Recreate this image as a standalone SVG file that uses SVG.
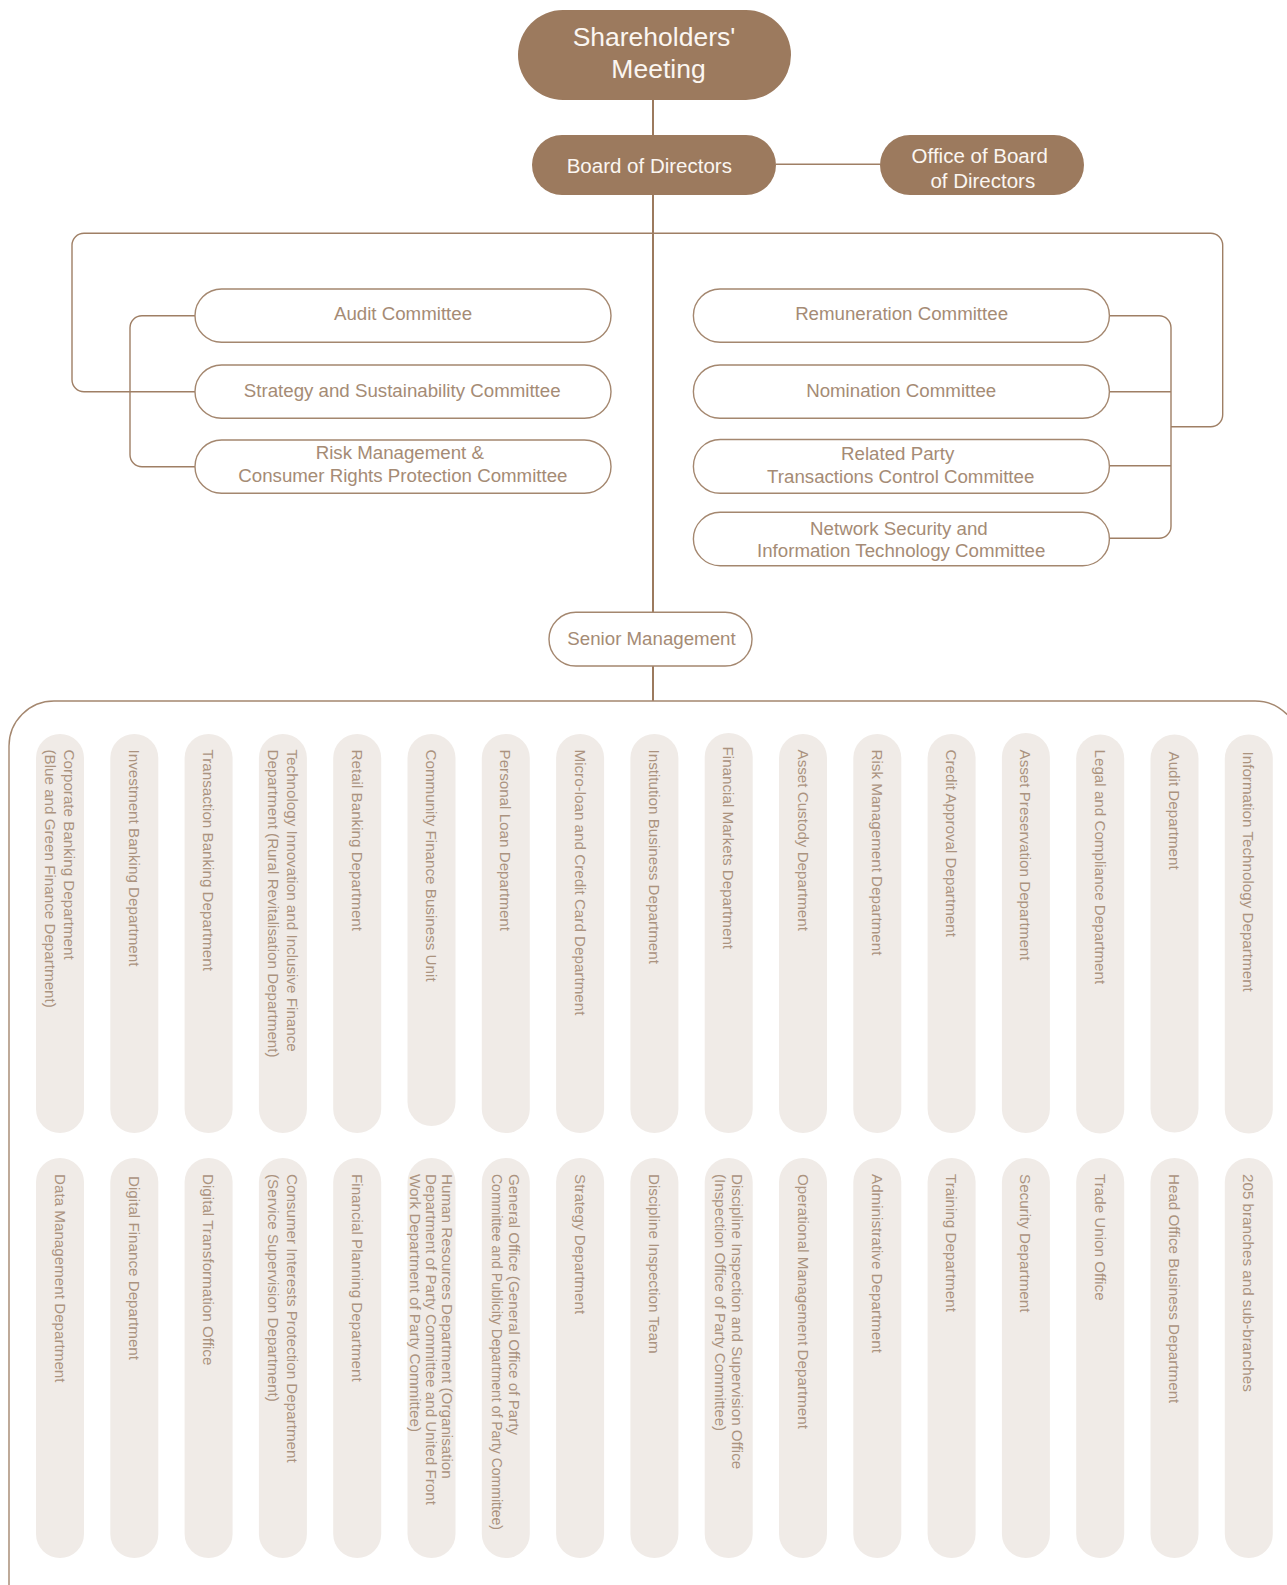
<svg xmlns="http://www.w3.org/2000/svg" width="1287" height="1585" viewBox="0 0 1287 1585">
  <style>
    .solid { fill: #9c7a5e; }
    .solid-text { fill: #fbf6f1; font-family: "Liberation Sans", Arial, sans-serif; text-anchor: middle; }
    .outline { fill: #ffffff; stroke: #a4876f; stroke-width: 1.4; }
    .outline-text { fill: #a58b75; font-family: "Liberation Sans", Arial, sans-serif; font-size: 18.7px; text-anchor: middle; }
    .link { fill: none; stroke: #9f7f65; stroke-width: 1.4; }
    .trunk { fill: none; stroke: #9c7a5e; stroke-width: 2; }
    .frame { fill: none; stroke: #a4876f; stroke-width: 1.4; }
    .dept { fill: #f0ebe7; }
    .dept-text { fill: #ab937f; font-family: "Liberation Sans", Arial, sans-serif; font-size: 15.2px; }
  </style>

  <!-- connectors -->
  <g id="connectors">
    <path class="trunk" d="M653 100 V135 M653 195 V612 M653 666 V701"/>
    <path class="link" d="M776 164.3 H880"/>
    <!-- outer committee bracket -->
    <path class="link" d="M195 391.7 H84 A12 12 0 0 1 72 379.7 V245.3 A12 12 0 0 1 84 233.3 H1210.7 A12 12 0 0 1 1222.7 245.3 V414.7 A12 12 0 0 1 1210.7 426.7 H1171"/>
    <!-- left committee bracket -->
    <path class="link" d="M195 315.7 H142 A12 12 0 0 0 130 327.7 V454.7 A12 12 0 0 0 142 466.7 H195"/>
    <!-- right committee bracket -->
    <path class="link" d="M1109.4 315.7 H1159 A12 12 0 0 1 1171 327.7 V526.3 A12 12 0 0 1 1159 538.3 H1109.4 M1109.4 391.7 H1171 M1109.4 465.7 H1171"/>
    <!-- department frame -->
    <path class="frame" d="M9 1592 V746 A45 45 0 0 1 54 701 H1255 A45 45 0 0 1 1300 746 V1592"/>
  </g>

  <g id="shareholders-meeting">
    <rect class="solid" x="518" y="10" width="273" height="90" rx="45"/>
    <text class="solid-text" font-size="26.5"><tspan x="654" y="46">Shareholders'</tspan><tspan x="658.5" y="78.3">Meeting</tspan></text>
  </g>

  <g id="board-of-directors">
    <rect class="solid" x="532" y="135" width="244" height="60" rx="30"/>
    <text class="solid-text" font-size="20.5" x="649.3" y="173.3">Board of Directors</text>
  </g>

  <g id="office-of-board">
    <rect class="solid" x="880" y="135" width="204" height="60" rx="30"/>
    <text class="solid-text" font-size="20.5"><tspan x="979.8" y="162.7">Office of Board</tspan><tspan x="982.8" y="188.3">of Directors</tspan></text>
  </g>

  <!-- board committees -->
  <g id="audit-committee">
    <rect class="outline" x="195" y="289" width="416" height="53.3" rx="26.6"/>
    <text class="outline-text" x="403" y="320">Audit Committee</text>
  </g>
  <g id="strategy-committee">
    <rect class="outline" x="195" y="365" width="416" height="53.3" rx="26.6"/>
    <text class="outline-text" x="402.2" y="396.7">Strategy and Sustainability Committee</text>
  </g>
  <g id="risk-committee">
    <rect class="outline" x="195" y="440" width="416" height="53.3" rx="26.6"/>
    <text class="outline-text"><tspan x="399.8" y="459.3">Risk Management &amp;</tspan><tspan x="402.9" y="481.7">Consumer Rights Protection Committee</tspan></text>
  </g>
  <g id="remuneration-committee">
    <rect class="outline" x="693.4" y="289" width="416" height="53.3" rx="26.6"/>
    <text class="outline-text" x="901.6" y="320">Remuneration Committee</text>
  </g>
  <g id="nomination-committee">
    <rect class="outline" x="693.4" y="365" width="416" height="53.3" rx="26.6"/>
    <text class="outline-text" x="901.2" y="397.3">Nomination Committee</text>
  </g>
  <g id="related-party-committee">
    <rect class="outline" x="693.4" y="439.5" width="416" height="53.8" rx="26.9"/>
    <text class="outline-text"><tspan x="897.7" y="460">Related Party</tspan><tspan x="900.7" y="482.7">Transactions Control Committee</tspan></text>
  </g>
  <g id="network-security-committee">
    <rect class="outline" x="693.4" y="512.3" width="416" height="53.4" rx="26.7"/>
    <text class="outline-text"><tspan x="898.9" y="535">Network Security and</tspan><tspan x="901.2" y="556.7">Information Technology Committee</tspan></text>
  </g>

  <g id="senior-management">
    <rect class="outline" x="549" y="612.3" width="203" height="53.7" rx="26.8"/>
    <text class="outline-text" x="651.5" y="645">Senior Management</text>
  </g>

  <!-- departments, first row -->
  <g id="dept-corporate-banking">
    <rect class="dept" x="36" y="734" width="48" height="399" rx="24"/>
    <text class="dept-text" transform="translate(60 749.5) rotate(90)"><tspan x="0" y="-4">Corporate Banking Department</tspan><tspan x="0" y="15">(Blue and Green Finance Department)</tspan></text>
  </g>
  <g id="dept-investment-banking">
    <rect class="dept" x="110.3" y="734" width="48" height="399" rx="24"/>
    <text class="dept-text" transform="translate(134.3 749.5) rotate(90)" y="5.5">Investment Banking Department</text>
  </g>
  <g id="dept-transaction-banking">
    <rect class="dept" x="184.6" y="734" width="48" height="399" rx="24"/>
    <text class="dept-text" transform="translate(208.6 749.5) rotate(90)" y="5.5">Transaction Banking Department</text>
  </g>
  <g id="dept-technology-innovation">
    <rect class="dept" x="258.9" y="734" width="48" height="399" rx="24"/>
    <text class="dept-text" transform="translate(282.9 749.5) rotate(90)"><tspan x="0" y="-4">Technology Innovation and Inclusive Finance</tspan><tspan x="0" y="15">Department (Rural Revitalisation Department)</tspan></text>
  </g>
  <g id="dept-retail-banking">
    <rect class="dept" x="333.2" y="734" width="48" height="399" rx="24"/>
    <text class="dept-text" transform="translate(357.2 749.5) rotate(90)" y="5.5">Retail Banking Department</text>
  </g>
  <g id="dept-community-finance">
    <rect class="dept" x="407.5" y="734" width="48" height="392" rx="24"/>
    <text class="dept-text" transform="translate(431.5 749.5) rotate(90)" y="5.5">Community Finance Business Unit</text>
  </g>
  <g id="dept-personal-loan">
    <rect class="dept" x="481.8" y="734" width="48" height="399" rx="24"/>
    <text class="dept-text" transform="translate(505.8 749.5) rotate(90)" y="5.5">Personal Loan Department</text>
  </g>
  <g id="dept-micro-loan">
    <rect class="dept" x="556.1" y="734" width="48" height="399" rx="24"/>
    <text class="dept-text" transform="translate(580.1 749.5) rotate(90)" y="5.5">Micro-loan and Credit Card Department</text>
  </g>
  <g id="dept-institution-business">
    <rect class="dept" x="630.4" y="734" width="48" height="399" rx="24"/>
    <text class="dept-text" transform="translate(654.4 749.5) rotate(90)" y="5.5">Institution Business Department</text>
  </g>
  <g id="dept-financial-markets">
    <rect class="dept" x="704.7" y="733" width="48" height="400" rx="24"/>
    <text class="dept-text" transform="translate(728.7 746.5) rotate(90)" y="5.5">Financial Markets Department</text>
  </g>
  <g id="dept-asset-custody">
    <rect class="dept" x="779" y="734" width="48" height="399" rx="24"/>
    <text class="dept-text" transform="translate(803 749.5) rotate(90)" y="5.5">Asset Custody Department</text>
  </g>
  <g id="dept-risk-management">
    <rect class="dept" x="853.3" y="734" width="48" height="399" rx="24"/>
    <text class="dept-text" transform="translate(877.3 749.5) rotate(90)" y="5.5">Risk Management Department</text>
  </g>
  <g id="dept-credit-approval">
    <rect class="dept" x="927.6" y="734" width="48" height="399" rx="24"/>
    <text class="dept-text" transform="translate(951.6 749.5) rotate(90)" y="5.5">Credit Approval Department</text>
  </g>
  <g id="dept-asset-preservation">
    <rect class="dept" x="1001.9" y="733" width="48" height="400" rx="24"/>
    <text class="dept-text" transform="translate(1025.9 749.5) rotate(90)" y="5.5">Asset Preservation Department</text>
  </g>
  <g id="dept-legal-compliance">
    <rect class="dept" x="1076.2" y="734.5" width="48" height="399" rx="24"/>
    <text class="dept-text" transform="translate(1100.2 749.5) rotate(90)" y="5.5">Legal and Compliance Department</text>
  </g>
  <g id="dept-audit">
    <rect class="dept" x="1150.5" y="734.5" width="48" height="398" rx="24"/>
    <text class="dept-text" transform="translate(1174.5 751.5) rotate(90)" y="5.5">Audit Department</text>
  </g>
  <g id="dept-information-technology">
    <rect class="dept" x="1224.8" y="734.5" width="48" height="399" rx="24"/>
    <text class="dept-text" transform="translate(1248.8 751.5) rotate(90)" y="5.5">Information Technology Department</text>
  </g>

  <!-- departments, second row -->
  <g id="dept-data-management">
    <rect class="dept" x="36" y="1158" width="48" height="400" rx="24"/>
    <text class="dept-text" transform="translate(60 1174) rotate(90)" y="5.5">Data Management Department</text>
  </g>
  <g id="dept-digital-finance">
    <rect class="dept" x="110.3" y="1158" width="48" height="400" rx="24"/>
    <text class="dept-text" transform="translate(134.3 1176) rotate(90)" y="5.5">Digital Finance Department</text>
  </g>
  <g id="dept-digital-transformation">
    <rect class="dept" x="184.6" y="1158" width="48" height="400" rx="24"/>
    <text class="dept-text" transform="translate(208.6 1174) rotate(90)" y="5.5">Digital Transformation Office</text>
  </g>
  <g id="dept-consumer-interests">
    <rect class="dept" x="258.9" y="1158" width="48" height="400" rx="24"/>
    <text class="dept-text" transform="translate(282.9 1174) rotate(90)"><tspan x="0" y="-4">Consumer Interests Protection Department</tspan><tspan x="0" y="15">(Service Supervision Department)</tspan></text>
  </g>
  <g id="dept-financial-planning">
    <rect class="dept" x="333.2" y="1158" width="48" height="400" rx="24"/>
    <text class="dept-text" transform="translate(357.2 1174) rotate(90)" y="5.5">Financial Planning Department</text>
  </g>
  <g id="dept-human-resources">
    <rect class="dept" x="407.5" y="1158" width="48" height="400" rx="24"/>
    <text class="dept-text" transform="translate(431.5 1174) rotate(90)"><tspan x="0" y="-10.5">Human Resources Department (Organisation</tspan><tspan x="0" y="5.5">Department of Party Committee and United Front</tspan><tspan x="0" y="21.5">Work Department of Party Committee)</tspan></text>
  </g>
  <g id="dept-general-office">
    <rect class="dept" x="481.8" y="1158" width="48" height="400" rx="24"/>
    <text class="dept-text" transform="translate(505.8 1174) rotate(90)"><tspan x="0" y="-3.25">General Office (General Office of Party</tspan><tspan x="0" y="14.25" textLength="356" lengthAdjust="spacingAndGlyphs">Committee and Publicity Department of Party Committee)</tspan></text>
  </g>
  <g id="dept-strategy">
    <rect class="dept" x="556.1" y="1158" width="48" height="400" rx="24"/>
    <text class="dept-text" transform="translate(580.1 1174) rotate(90)" y="5.5">Strategy Department</text>
  </g>
  <g id="dept-discipline-team">
    <rect class="dept" x="630.4" y="1158" width="48" height="400" rx="24"/>
    <text class="dept-text" transform="translate(654.4 1174) rotate(90)" y="5.5">Discipline Inspection Team</text>
  </g>
  <g id="dept-discipline-office">
    <rect class="dept" x="704.7" y="1158" width="48" height="400" rx="24"/>
    <text class="dept-text" transform="translate(728.7 1174) rotate(90)"><tspan x="0" y="-3">Discipline Inspection and Supervision Office</tspan><tspan x="0" y="14">(Inspection Office of Party Committee)</tspan></text>
  </g>
  <g id="dept-operational-management">
    <rect class="dept" x="779" y="1158" width="48" height="400" rx="24"/>
    <text class="dept-text" transform="translate(803 1174) rotate(90)" y="5.5">Operational Management Department</text>
  </g>
  <g id="dept-administrative">
    <rect class="dept" x="853.3" y="1158" width="48" height="400" rx="24"/>
    <text class="dept-text" transform="translate(877.3 1174) rotate(90)" y="5.5">Administrative Department</text>
  </g>
  <g id="dept-training">
    <rect class="dept" x="927.6" y="1158" width="48" height="400" rx="24"/>
    <text class="dept-text" transform="translate(951.6 1174) rotate(90)" y="5.5">Training Department</text>
  </g>
  <g id="dept-security">
    <rect class="dept" x="1001.9" y="1158" width="48" height="400" rx="24"/>
    <text class="dept-text" transform="translate(1025.9 1174) rotate(90)" y="5.5">Security Department</text>
  </g>
  <g id="dept-trade-union">
    <rect class="dept" x="1076.2" y="1158" width="48" height="400" rx="24"/>
    <text class="dept-text" transform="translate(1100.2 1174) rotate(90)" y="5.5">Trade Union Office</text>
  </g>
  <g id="dept-head-office-business">
    <rect class="dept" x="1150.5" y="1158" width="48" height="400" rx="24"/>
    <text class="dept-text" transform="translate(1174.5 1174) rotate(90)" y="5.5">Head Office Business Department</text>
  </g>
  <g id="dept-branches">
    <rect class="dept" x="1224.8" y="1158" width="48" height="400" rx="24"/>
    <text class="dept-text" transform="translate(1248.8 1174) rotate(90)" y="5.5">205 branches and sub-branches</text>
  </g>
</svg>
